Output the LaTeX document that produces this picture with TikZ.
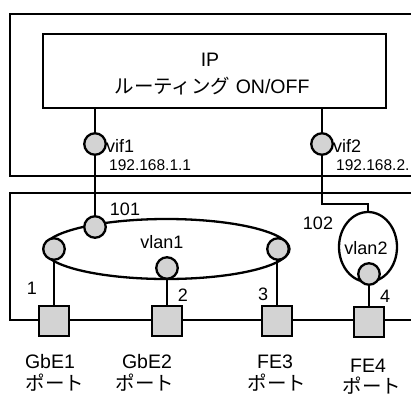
\documentclass[tikz,border=0pt]{standalone}
\usepackage{fontspec}
\setmainfont{Liberation Sans}
\newfontfamily\cjk{Noto Sans CJK JP}
\usetikzlibrary{shapes.geometric,backgrounds}
\definecolor{nodegray}{HTML}{D3D3D3}
\tikzset{
  ln/.style={line width=2.3pt},
  port/.style={circle,draw,ln,fill=nodegray,minimum size=21.5pt,inner sep=0pt},
  phys/.style={rectangle,draw,ln,fill=nodegray,minimum size=30pt,inner sep=0pt},
  vlan/.style={ellipse,draw,ln,inner sep=0pt},
  lbl/.style={inner sep=0pt,font=\fontsize{18}{20}\selectfont},
  small/.style={inner sep=0pt,font=\fontsize{15.5}{18}\selectfont},
  big/.style={inner sep=0pt,align=center,font=\fontsize{19.5}{21}\selectfont}
}
\begin{document}
\begin{tikzpicture}[x=1pt,y=-1pt]
\useasboundingbox (0,0) rectangle (411,396);
\clip (0,0) rectangle (411,396);
% outer boxes
\draw[ln] (430,14) -- (10,14) -- (10,176) -- (430,176);
\draw[ln] (430,193) -- (10,193) -- (10,320) -- (430,320);
% IP box
\node[draw,ln,minimum width=343pt,minimum height=74pt,inner sep=0pt] (ip) at (214.5,71) {};
\node[big] (ipa) at (210,60) {IP};
\node[big] (ipb) at (212,86) {{\cjk ルーティング} ON/OFF};
% vlan ellipses
\node[vlan,minimum width=246pt,minimum height=60pt] (v1) at (166.5,249) {};
\node[vlan,minimum width=58pt,minimum height=70pt] (v2) at (368,247) {};
% ports
\node[port] (vif1) at (95,144) {};
\node[port] (vif2) at (322,144) {};
\node[port] (p101) at (95,227) {};
\node[port] (pa) at (54,249) {};
\node[port] (pb) at (167,268) {};
\node[port] (pc) at (278,249) {};
\node[port] (pd) at (369,274) {};
% physical ports
\node[phys] (s1) at (54,321) {};
\node[phys] (s2) at (167,321) {};
\node[phys] (s3) at (277,321) {};
\node[phys] (s4) at (369,322) {};
% connectors
\begin{scope}[on background layer]
\draw[ln] (ip.south -| vif1) -- (p101.center);
\draw[ln] (ip.south -| vif2) -- (vif2.center) -- (322,204) coordinate (k) -| (v2.north);
\draw[ln] (pa.center) -- (s1.north);
\draw[ln] (pb.center) -- (s2.north);
\draw[ln] (pc.center -| s3.north) -- (s3.north);
\draw[ln] (pd.center) -- (s4.north);
\end{scope}
% labels
\node[lbl,anchor=west] (l1) at (106,146) {vif1};
\node[small,anchor=west] (a1) at (109,165) {192.168.1.1};
\node[lbl,anchor=west] (l2) at (333,146) {vif2};
\node[small,anchor=west] (a2) at (336,165) {192.168.2.};
\node[lbl] (n101) at (125,209) {101};
\node[lbl] (n102) at (318,223) {102};
\node[lbl] (nv1) at (162,242) {vlan1};
\node[lbl] (nv2) at (366,248) {vlan2};
\node[lbl] (n1) at (32,288) {1};
\node[lbl] (n2) at (183,295) {2};
\node[lbl] (n3) at (263,294) {3};
\node[lbl] (n4) at (385,296) {4};
\node[big] (g1) at (50,362) {GbE1};
\node[big] (h1) at (55,383) {\cjk ポート};
\node[big] (g2) at (147,362) {GbE2};
\node[big] (h2) at (145,383) {\cjk ポート};
\node[big] (g3) at (275,362) {FE3};
\node[big] (h3) at (277,383) {\cjk ポート};
\node[big] (g4) at (368,366) {FE4};
\node[big] (h4) at (372,386) {\cjk ポート};
\end{tikzpicture}
\end{document}
